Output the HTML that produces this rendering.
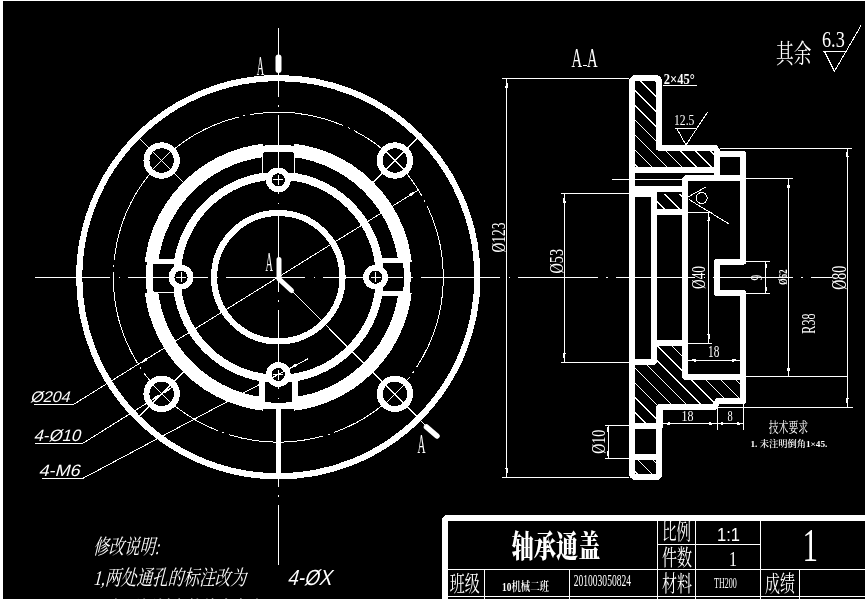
<!DOCTYPE html>
<html lang="zh"><head><meta charset="utf-8"><title>轴承通盖</title>
<style>html,body{margin:0;padding:0;background:#fff;overflow:hidden}svg{display:block;will-change:transform;filter:grayscale(1)}</style></head>
<body><svg width="865" height="599" viewBox="0 0 865 599" stroke="#fff" fill="none" shape-rendering="crispEdges">
<rect x="3" y="1" width="862" height="598" fill="#000" stroke="none"/>
<circle cx="278.3" cy="277.2" r="165" stroke-width="1" fill="none" stroke-dasharray="95 5 2 5"/>
<circle cx="278.3" cy="277.2" r="199.1" stroke-width="6.2" fill="none" />
<circle cx="278.3" cy="277.2" r="127.7" stroke-width="13.4" fill="none" />
<circle cx="278.3" cy="277.2" r="101.6" stroke-width="8" fill="none" />
<circle cx="278.3" cy="277.2" r="64.2" stroke-width="6.2" fill="none" />
<rect x="262.8" y="140.7" width="31" height="32.1" fill="#000" stroke="none"/>
<rect x="141.8" y="261.7" width="32.1" height="31" fill="#000" stroke="none"/>
<rect x="382.7" y="261.7" width="32.1" height="31" fill="#000" stroke="none"/>
<rect x="262.8" y="381.6" width="31" height="32.1" fill="#000" stroke="none"/>
<path d="M405.88 296.27 A129 129 0 0 0 405.88 258.13" stroke-width="6.8"/>
<path d="M297.37 149.62 A129 129 0 0 0 259.23 149.62" stroke-width="6.8"/>
<path d="M150.72 258.13 A129 129 0 0 0 150.72 296.27" stroke-width="6.8"/>
<path d="M259.23 404.78 A129 129 0 0 0 297.37 404.78" stroke-width="6.8"/>
<line x1="262.3" y1="154.2" x2="262.3" y2="176.8" stroke-width="1" />
<line x1="294.3" y1="154.2" x2="294.3" y2="176.8" stroke-width="1" />
<line x1="151.3" y1="261" x2="178.9" y2="261" stroke-width="5" />
<line x1="151.3" y1="292.2" x2="178.9" y2="292.2" stroke-width="1" />
<line x1="377.7" y1="260.5" x2="405.3" y2="260.5" stroke-width="5" />
<line x1="377.7" y1="293.2" x2="405.3" y2="293.2" stroke-width="5" />
<line x1="261.8" y1="376.6" x2="261.8" y2="404.2" stroke-width="5.8" />
<line x1="294.8" y1="376.6" x2="294.8" y2="404.2" stroke-width="5.8" />
<line x1="278.5" y1="407.2" x2="278.5" y2="475.2" stroke-width="5" />
<line x1="34.6" y1="277.5" x2="832" y2="277.5" stroke-width="1" stroke-dasharray="79.5 8.5 1.5 8" stroke-dashoffset="3.8"/>
<line x1="278.5" y1="28" x2="278.5" y2="565" stroke-width="1" stroke-dasharray="79.5 8.5 1.5 8" stroke-dashoffset="11"/>
<circle cx="375.6" cy="277.2" r="9.5" stroke-width="5.8" fill="#000" />
<line x1="370.6" y1="277.2" x2="380.6" y2="277.2" stroke-width="1" />
<line x1="375.6" y1="272.2" x2="375.6" y2="282.2" stroke-width="1" />
<circle cx="278.3" cy="179.9" r="9.5" stroke-width="5.8" fill="#000" />
<line x1="273.3" y1="179.9" x2="283.3" y2="179.9" stroke-width="1" />
<line x1="278.3" y1="174.9" x2="278.3" y2="184.9" stroke-width="1" />
<circle cx="181" cy="277.2" r="9.5" stroke-width="5.8" fill="#000" />
<line x1="176" y1="277.2" x2="186" y2="277.2" stroke-width="1" />
<line x1="181" y1="272.2" x2="181" y2="282.2" stroke-width="1" />
<circle cx="278.3" cy="374.5" r="9.5" stroke-width="5.8" fill="#000" />
<line x1="273.3" y1="374.5" x2="283.3" y2="374.5" stroke-width="1" />
<line x1="278.3" y1="369.5" x2="278.3" y2="379.5" stroke-width="1" />
<circle cx="394.97" cy="160.53" r="15.2" stroke-width="6" fill="#000" />
<line x1="371.64" y1="183.86" x2="418.31" y2="137.19" stroke-width="1" />
<line x1="404.17" y1="169.72" x2="385.78" y2="151.33" stroke-width="1" />
<circle cx="161.63" cy="160.53" r="15.2" stroke-width="6" fill="#000" />
<line x1="184.96" y1="183.86" x2="138.29" y2="137.19" stroke-width="1" />
<line x1="170.82" y1="151.33" x2="152.43" y2="169.72" stroke-width="1" />
<circle cx="161.63" cy="393.87" r="15.2" stroke-width="6" fill="#000" />
<line x1="184.96" y1="370.54" x2="138.29" y2="417.21" stroke-width="1" />
<line x1="152.43" y1="384.68" x2="170.82" y2="403.07" stroke-width="1" />
<circle cx="394.97" cy="393.87" r="15.2" stroke-width="6" fill="#000" />
<line x1="371.64" y1="370.54" x2="418.31" y2="417.21" stroke-width="1" />
<line x1="385.78" y1="403.07" x2="404.17" y2="384.68" stroke-width="1" />
<line x1="278.3" y1="277.2" x2="425.5" y2="425.5" stroke-width="1" />
<rect x="275.5" y="54.5" width="6" height="18.5" rx="3" fill="#fff" stroke="none" shape-rendering="auto"/>
<text transform="translate(256.8,75.3)" font-family="'Liberation Serif', 'Noto Serif CJK SC', serif" font-size="27" font-weight="normal" text-anchor="start" fill="#fff" stroke="none"  textLength="7.4" lengthAdjust="spacingAndGlyphs">A</text>
<polyline points="279,259.5 279,279 291.5,290.5" stroke-width="5" fill="none" stroke-linejoin="round" stroke-linecap="round" shape-rendering="auto"/>
<text transform="translate(265.5,271.1)" font-family="'Liberation Serif', 'Noto Serif CJK SC', serif" font-size="27" font-weight="normal" text-anchor="start" fill="#fff" stroke="none"  textLength="7.4" lengthAdjust="spacingAndGlyphs">A</text>
<line x1="426.5" y1="427" x2="437" y2="436" stroke-width="5.5" stroke-linecap="round" shape-rendering="auto"/>
<text transform="translate(417.4,452.8)" font-family="'Liberation Serif', 'Noto Serif CJK SC', serif" font-size="27" font-weight="normal" text-anchor="start" fill="#fff" stroke="none"  textLength="8" lengthAdjust="spacingAndGlyphs">A</text>
<polyline points="34.6,404.5 73.4,404.5 418.38,190.01" stroke-width="1" fill="none" stroke-linejoin="round" stroke-linecap="round" />
<polygon points="138.22,364.39 147.55,360.47 145.86,357.75" fill="#fff" stroke="none"/>
<polygon points="418.38,190.01 409.05,193.93 410.74,196.65" fill="#fff" stroke="none"/>
<text transform="translate(30,402) skewX(-15)" font-family="'Liberation Sans', 'Noto Sans CJK SC', sans-serif" font-size="15.4" font-weight="normal" text-anchor="start" fill="#fff" stroke="none"  textLength="39.5" lengthAdjust="spacingAndGlyphs">Ø204</text>
<polyline points="35,443.2 83,443.2 171.82,387.53" stroke-width="1" fill="none" stroke-linejoin="round" stroke-linecap="round" />
<polygon points="151.44,400.21 159.02,397.26 157.44,394.71" fill="#fff" stroke="none"/>
<polygon points="171.82,387.53 164.23,390.49 165.82,393.03" fill="#fff" stroke="none"/>
<text transform="translate(33.5,440.5) skewX(-15)" font-family="'Liberation Sans', 'Noto Sans CJK SC', sans-serif" font-size="16.5" font-weight="normal" text-anchor="start" fill="#fff" stroke="none"  textLength="46.5" lengthAdjust="spacingAndGlyphs">4-Ø10</text>
<polyline points="42,478.8 82,478.8 307.44,359.02" stroke-width="1" fill="none" stroke-linejoin="round" stroke-linecap="round" />
<polygon points="288.9,368.87 297.6,366.06 296.09,363.23" fill="#fff" stroke="none"/>
<text transform="translate(38.5,476.4) skewX(-15)" font-family="'Liberation Sans', 'Noto Sans CJK SC', sans-serif" font-size="16.5" font-weight="normal" text-anchor="start" fill="#fff" stroke="none"  textLength="41" lengthAdjust="spacingAndGlyphs">4-M6</text>
<text transform="translate(93,553.5) skewX(-14)" font-family="'Liberation Serif', 'Noto Serif CJK SC', serif" font-size="21" font-weight="normal" text-anchor="start" fill="#fff" stroke="none"  textLength="66" lengthAdjust="spacingAndGlyphs">修改说明:</text>
<text transform="translate(93,584.5) skewX(-14)" font-family="'Liberation Serif', 'Noto Serif CJK SC', serif" font-size="21" font-weight="normal" text-anchor="start" fill="#fff" stroke="none"  textLength="153" lengthAdjust="spacingAndGlyphs">1,两处通孔的标注改为</text>
<text transform="translate(287,584.7) skewX(-15)" font-family="'Liberation Sans', 'Noto Sans CJK SC', sans-serif" font-size="22" font-weight="normal" text-anchor="start" fill="#fff" stroke="none"  textLength="44" lengthAdjust="spacingAndGlyphs">4-ØX</text>
<text transform="translate(93,615.5) skewX(-14)" font-family="'Liberation Serif', 'Noto Serif CJK SC', serif" font-size="21" font-weight="normal" text-anchor="start" fill="#fff" stroke="none"  textLength="168" lengthAdjust="spacingAndGlyphs">2,右面倾斜度数值自左向</text>
<clipPath id="h1"><polygon points="632.3,78 659,78 659,148 717.3,148 717.3,170 632.3,170"/></clipPath>
<g clip-path="url(#h1)">
<line x1="-47.5" y1="0" x2="552.5" y2="600" stroke-width="1" />
<line x1="-32.7" y1="0" x2="567.3" y2="600" stroke-width="1" />
<line x1="-17.9" y1="0" x2="582.1" y2="600" stroke-width="1" />
<line x1="-3.1" y1="0" x2="596.9" y2="600" stroke-width="1" />
<line x1="11.7" y1="0" x2="611.7" y2="600" stroke-width="1" />
<line x1="26.5" y1="0" x2="626.5" y2="600" stroke-width="1" />
<line x1="41.3" y1="0" x2="641.3" y2="600" stroke-width="1" />
<line x1="56.1" y1="0" x2="656.1" y2="600" stroke-width="1" />
<line x1="70.9" y1="0" x2="670.9" y2="600" stroke-width="1" />
<line x1="85.7" y1="0" x2="685.7" y2="600" stroke-width="1" />
<line x1="100.5" y1="0" x2="700.5" y2="600" stroke-width="1" />
<line x1="115.3" y1="0" x2="715.3" y2="600" stroke-width="1" />
<line x1="130.1" y1="0" x2="730.1" y2="600" stroke-width="1" />
<line x1="144.9" y1="0" x2="744.9" y2="600" stroke-width="1" />
<line x1="159.7" y1="0" x2="759.7" y2="600" stroke-width="1" />
<line x1="174.5" y1="0" x2="774.5" y2="600" stroke-width="1" />
<line x1="189.3" y1="0" x2="789.3" y2="600" stroke-width="1" />
<line x1="204.1" y1="0" x2="804.1" y2="600" stroke-width="1" />
<line x1="218.9" y1="0" x2="818.9" y2="600" stroke-width="1" />
<line x1="233.7" y1="0" x2="833.7" y2="600" stroke-width="1" />
<line x1="248.5" y1="0" x2="848.5" y2="600" stroke-width="1" />
<line x1="263.3" y1="0" x2="863.3" y2="600" stroke-width="1" />
<line x1="278.1" y1="0" x2="878.1" y2="600" stroke-width="1" />
<line x1="292.9" y1="0" x2="892.9" y2="600" stroke-width="1" />
<line x1="307.7" y1="0" x2="907.7" y2="600" stroke-width="1" />
<line x1="322.5" y1="0" x2="922.5" y2="600" stroke-width="1" />
<line x1="337.3" y1="0" x2="937.3" y2="600" stroke-width="1" />
<line x1="352.1" y1="0" x2="952.1" y2="600" stroke-width="1" />
<line x1="366.9" y1="0" x2="966.9" y2="600" stroke-width="1" />
<line x1="381.7" y1="0" x2="981.7" y2="600" stroke-width="1" />
<line x1="396.5" y1="0" x2="996.5" y2="600" stroke-width="1" />
<line x1="411.3" y1="0" x2="1011.3" y2="600" stroke-width="1" />
<line x1="426.1" y1="0" x2="1026.1" y2="600" stroke-width="1" />
<line x1="440.9" y1="0" x2="1040.9" y2="600" stroke-width="1" />
<line x1="455.7" y1="0" x2="1055.7" y2="600" stroke-width="1" />
<line x1="470.5" y1="0" x2="1070.5" y2="600" stroke-width="1" />
<line x1="485.3" y1="0" x2="1085.3" y2="600" stroke-width="1" />
<line x1="500.1" y1="0" x2="1100.1" y2="600" stroke-width="1" />
<line x1="514.9" y1="0" x2="1114.9" y2="600" stroke-width="1" />
<line x1="529.7" y1="0" x2="1129.7" y2="600" stroke-width="1" />
<line x1="544.5" y1="0" x2="1144.5" y2="600" stroke-width="1" />
<line x1="559.3" y1="0" x2="1159.3" y2="600" stroke-width="1" />
<line x1="574.1" y1="0" x2="1174.1" y2="600" stroke-width="1" />
<line x1="588.9" y1="0" x2="1188.9" y2="600" stroke-width="1" />
<line x1="603.7" y1="0" x2="1203.7" y2="600" stroke-width="1" />
<line x1="618.5" y1="0" x2="1218.5" y2="600" stroke-width="1" />
<line x1="633.3" y1="0" x2="1233.3" y2="600" stroke-width="1" />
<line x1="648.1" y1="0" x2="1248.1" y2="600" stroke-width="1" />
</g>
<clipPath id="h2"><polygon points="654,194 685,194 685,212 654,212"/></clipPath>
<g clip-path="url(#h2)">
<line x1="-47.5" y1="0" x2="552.5" y2="600" stroke-width="1" />
<line x1="-32.7" y1="0" x2="567.3" y2="600" stroke-width="1" />
<line x1="-17.9" y1="0" x2="582.1" y2="600" stroke-width="1" />
<line x1="-3.1" y1="0" x2="596.9" y2="600" stroke-width="1" />
<line x1="11.7" y1="0" x2="611.7" y2="600" stroke-width="1" />
<line x1="26.5" y1="0" x2="626.5" y2="600" stroke-width="1" />
<line x1="41.3" y1="0" x2="641.3" y2="600" stroke-width="1" />
<line x1="56.1" y1="0" x2="656.1" y2="600" stroke-width="1" />
<line x1="70.9" y1="0" x2="670.9" y2="600" stroke-width="1" />
<line x1="85.7" y1="0" x2="685.7" y2="600" stroke-width="1" />
<line x1="100.5" y1="0" x2="700.5" y2="600" stroke-width="1" />
<line x1="115.3" y1="0" x2="715.3" y2="600" stroke-width="1" />
<line x1="130.1" y1="0" x2="730.1" y2="600" stroke-width="1" />
<line x1="144.9" y1="0" x2="744.9" y2="600" stroke-width="1" />
<line x1="159.7" y1="0" x2="759.7" y2="600" stroke-width="1" />
<line x1="174.5" y1="0" x2="774.5" y2="600" stroke-width="1" />
<line x1="189.3" y1="0" x2="789.3" y2="600" stroke-width="1" />
<line x1="204.1" y1="0" x2="804.1" y2="600" stroke-width="1" />
<line x1="218.9" y1="0" x2="818.9" y2="600" stroke-width="1" />
<line x1="233.7" y1="0" x2="833.7" y2="600" stroke-width="1" />
<line x1="248.5" y1="0" x2="848.5" y2="600" stroke-width="1" />
<line x1="263.3" y1="0" x2="863.3" y2="600" stroke-width="1" />
<line x1="278.1" y1="0" x2="878.1" y2="600" stroke-width="1" />
<line x1="292.9" y1="0" x2="892.9" y2="600" stroke-width="1" />
<line x1="307.7" y1="0" x2="907.7" y2="600" stroke-width="1" />
<line x1="322.5" y1="0" x2="922.5" y2="600" stroke-width="1" />
<line x1="337.3" y1="0" x2="937.3" y2="600" stroke-width="1" />
<line x1="352.1" y1="0" x2="952.1" y2="600" stroke-width="1" />
<line x1="366.9" y1="0" x2="966.9" y2="600" stroke-width="1" />
<line x1="381.7" y1="0" x2="981.7" y2="600" stroke-width="1" />
<line x1="396.5" y1="0" x2="996.5" y2="600" stroke-width="1" />
<line x1="411.3" y1="0" x2="1011.3" y2="600" stroke-width="1" />
<line x1="426.1" y1="0" x2="1026.1" y2="600" stroke-width="1" />
<line x1="440.9" y1="0" x2="1040.9" y2="600" stroke-width="1" />
<line x1="455.7" y1="0" x2="1055.7" y2="600" stroke-width="1" />
<line x1="470.5" y1="0" x2="1070.5" y2="600" stroke-width="1" />
<line x1="485.3" y1="0" x2="1085.3" y2="600" stroke-width="1" />
<line x1="500.1" y1="0" x2="1100.1" y2="600" stroke-width="1" />
<line x1="514.9" y1="0" x2="1114.9" y2="600" stroke-width="1" />
<line x1="529.7" y1="0" x2="1129.7" y2="600" stroke-width="1" />
<line x1="544.5" y1="0" x2="1144.5" y2="600" stroke-width="1" />
<line x1="559.3" y1="0" x2="1159.3" y2="600" stroke-width="1" />
<line x1="574.1" y1="0" x2="1174.1" y2="600" stroke-width="1" />
<line x1="588.9" y1="0" x2="1188.9" y2="600" stroke-width="1" />
<line x1="603.7" y1="0" x2="1203.7" y2="600" stroke-width="1" />
<line x1="618.5" y1="0" x2="1218.5" y2="600" stroke-width="1" />
<line x1="633.3" y1="0" x2="1233.3" y2="600" stroke-width="1" />
<line x1="648.1" y1="0" x2="1248.1" y2="600" stroke-width="1" />
</g>
<clipPath id="h3"><polygon points="654,343 685,343 685,376.6 743,376.6 743,401 717.3,401 717.3,407 659,407 659,426 632.3,426 632.3,361.6 654,361.6"/></clipPath>
<g clip-path="url(#h3)">
<line x1="-177" y1="0" x2="423" y2="600" stroke-width="1" />
<line x1="-162.2" y1="0" x2="437.8" y2="600" stroke-width="1" />
<line x1="-147.4" y1="0" x2="452.6" y2="600" stroke-width="1" />
<line x1="-132.6" y1="0" x2="467.4" y2="600" stroke-width="1" />
<line x1="-117.8" y1="0" x2="482.2" y2="600" stroke-width="1" />
<line x1="-103" y1="0" x2="497" y2="600" stroke-width="1" />
<line x1="-88.2" y1="0" x2="511.8" y2="600" stroke-width="1" />
<line x1="-73.4" y1="0" x2="526.6" y2="600" stroke-width="1" />
<line x1="-58.6" y1="0" x2="541.4" y2="600" stroke-width="1" />
<line x1="-43.8" y1="0" x2="556.2" y2="600" stroke-width="1" />
<line x1="-29" y1="0" x2="571" y2="600" stroke-width="1" />
<line x1="-14.2" y1="0" x2="585.8" y2="600" stroke-width="1" />
<line x1="0.6" y1="0" x2="600.6" y2="600" stroke-width="1" />
<line x1="15.4" y1="0" x2="615.4" y2="600" stroke-width="1" />
<line x1="30.2" y1="0" x2="630.2" y2="600" stroke-width="1" />
<line x1="45" y1="0" x2="645" y2="600" stroke-width="1" />
<line x1="59.8" y1="0" x2="659.8" y2="600" stroke-width="1" />
<line x1="74.6" y1="0" x2="674.6" y2="600" stroke-width="1" />
<line x1="89.4" y1="0" x2="689.4" y2="600" stroke-width="1" />
<line x1="104.2" y1="0" x2="704.2" y2="600" stroke-width="1" />
<line x1="119" y1="0" x2="719" y2="600" stroke-width="1" />
<line x1="133.8" y1="0" x2="733.8" y2="600" stroke-width="1" />
<line x1="148.6" y1="0" x2="748.6" y2="600" stroke-width="1" />
<line x1="163.4" y1="0" x2="763.4" y2="600" stroke-width="1" />
<line x1="178.2" y1="0" x2="778.2" y2="600" stroke-width="1" />
<line x1="193" y1="0" x2="793" y2="600" stroke-width="1" />
<line x1="207.8" y1="0" x2="807.8" y2="600" stroke-width="1" />
<line x1="222.6" y1="0" x2="822.6" y2="600" stroke-width="1" />
<line x1="237.4" y1="0" x2="837.4" y2="600" stroke-width="1" />
<line x1="252.2" y1="0" x2="852.2" y2="600" stroke-width="1" />
<line x1="267" y1="0" x2="867" y2="600" stroke-width="1" />
<line x1="281.8" y1="0" x2="881.8" y2="600" stroke-width="1" />
<line x1="296.6" y1="0" x2="896.6" y2="600" stroke-width="1" />
<line x1="311.4" y1="0" x2="911.4" y2="600" stroke-width="1" />
<line x1="326.2" y1="0" x2="926.2" y2="600" stroke-width="1" />
<line x1="341" y1="0" x2="941" y2="600" stroke-width="1" />
<line x1="355.8" y1="0" x2="955.8" y2="600" stroke-width="1" />
<line x1="370.6" y1="0" x2="970.6" y2="600" stroke-width="1" />
<line x1="385.4" y1="0" x2="985.4" y2="600" stroke-width="1" />
<line x1="400.2" y1="0" x2="1000.2" y2="600" stroke-width="1" />
<line x1="415" y1="0" x2="1015" y2="600" stroke-width="1" />
<line x1="429.8" y1="0" x2="1029.8" y2="600" stroke-width="1" />
<line x1="444.6" y1="0" x2="1044.6" y2="600" stroke-width="1" />
<line x1="459.4" y1="0" x2="1059.4" y2="600" stroke-width="1" />
<line x1="474.2" y1="0" x2="1074.2" y2="600" stroke-width="1" />
<line x1="489" y1="0" x2="1089" y2="600" stroke-width="1" />
<line x1="503.8" y1="0" x2="1103.8" y2="600" stroke-width="1" />
<line x1="518.6" y1="0" x2="1118.6" y2="600" stroke-width="1" />
<line x1="533.4" y1="0" x2="1133.4" y2="600" stroke-width="1" />
<line x1="548.2" y1="0" x2="1148.2" y2="600" stroke-width="1" />
<line x1="563" y1="0" x2="1163" y2="600" stroke-width="1" />
<line x1="577.8" y1="0" x2="1177.8" y2="600" stroke-width="1" />
<line x1="592.6" y1="0" x2="1192.6" y2="600" stroke-width="1" />
<line x1="607.4" y1="0" x2="1207.4" y2="600" stroke-width="1" />
<line x1="622.2" y1="0" x2="1222.2" y2="600" stroke-width="1" />
<line x1="637" y1="0" x2="1237" y2="600" stroke-width="1" />
<line x1="651.8" y1="0" x2="1251.8" y2="600" stroke-width="1" />
<line x1="666.6" y1="0" x2="1266.6" y2="600" stroke-width="1" />
<line x1="681.4" y1="0" x2="1281.4" y2="600" stroke-width="1" />
<line x1="696.2" y1="0" x2="1296.2" y2="600" stroke-width="1" />
</g>
<clipPath id="h4"><polygon points="632.3,457 659,457 659,477 632.3,477"/></clipPath>
<g clip-path="url(#h4)">
<line x1="-177" y1="0" x2="423" y2="600" stroke-width="1" />
<line x1="-162.2" y1="0" x2="437.8" y2="600" stroke-width="1" />
<line x1="-147.4" y1="0" x2="452.6" y2="600" stroke-width="1" />
<line x1="-132.6" y1="0" x2="467.4" y2="600" stroke-width="1" />
<line x1="-117.8" y1="0" x2="482.2" y2="600" stroke-width="1" />
<line x1="-103" y1="0" x2="497" y2="600" stroke-width="1" />
<line x1="-88.2" y1="0" x2="511.8" y2="600" stroke-width="1" />
<line x1="-73.4" y1="0" x2="526.6" y2="600" stroke-width="1" />
<line x1="-58.6" y1="0" x2="541.4" y2="600" stroke-width="1" />
<line x1="-43.8" y1="0" x2="556.2" y2="600" stroke-width="1" />
<line x1="-29" y1="0" x2="571" y2="600" stroke-width="1" />
<line x1="-14.2" y1="0" x2="585.8" y2="600" stroke-width="1" />
<line x1="0.6" y1="0" x2="600.6" y2="600" stroke-width="1" />
<line x1="15.4" y1="0" x2="615.4" y2="600" stroke-width="1" />
<line x1="30.2" y1="0" x2="630.2" y2="600" stroke-width="1" />
<line x1="45" y1="0" x2="645" y2="600" stroke-width="1" />
<line x1="59.8" y1="0" x2="659.8" y2="600" stroke-width="1" />
<line x1="74.6" y1="0" x2="674.6" y2="600" stroke-width="1" />
<line x1="89.4" y1="0" x2="689.4" y2="600" stroke-width="1" />
<line x1="104.2" y1="0" x2="704.2" y2="600" stroke-width="1" />
<line x1="119" y1="0" x2="719" y2="600" stroke-width="1" />
<line x1="133.8" y1="0" x2="733.8" y2="600" stroke-width="1" />
<line x1="148.6" y1="0" x2="748.6" y2="600" stroke-width="1" />
<line x1="163.4" y1="0" x2="763.4" y2="600" stroke-width="1" />
<line x1="178.2" y1="0" x2="778.2" y2="600" stroke-width="1" />
<line x1="193" y1="0" x2="793" y2="600" stroke-width="1" />
<line x1="207.8" y1="0" x2="807.8" y2="600" stroke-width="1" />
<line x1="222.6" y1="0" x2="822.6" y2="600" stroke-width="1" />
<line x1="237.4" y1="0" x2="837.4" y2="600" stroke-width="1" />
<line x1="252.2" y1="0" x2="852.2" y2="600" stroke-width="1" />
<line x1="267" y1="0" x2="867" y2="600" stroke-width="1" />
<line x1="281.8" y1="0" x2="881.8" y2="600" stroke-width="1" />
<line x1="296.6" y1="0" x2="896.6" y2="600" stroke-width="1" />
<line x1="311.4" y1="0" x2="911.4" y2="600" stroke-width="1" />
<line x1="326.2" y1="0" x2="926.2" y2="600" stroke-width="1" />
<line x1="341" y1="0" x2="941" y2="600" stroke-width="1" />
<line x1="355.8" y1="0" x2="955.8" y2="600" stroke-width="1" />
<line x1="370.6" y1="0" x2="970.6" y2="600" stroke-width="1" />
<line x1="385.4" y1="0" x2="985.4" y2="600" stroke-width="1" />
<line x1="400.2" y1="0" x2="1000.2" y2="600" stroke-width="1" />
<line x1="415" y1="0" x2="1015" y2="600" stroke-width="1" />
<line x1="429.8" y1="0" x2="1029.8" y2="600" stroke-width="1" />
<line x1="444.6" y1="0" x2="1044.6" y2="600" stroke-width="1" />
<line x1="459.4" y1="0" x2="1059.4" y2="600" stroke-width="1" />
<line x1="474.2" y1="0" x2="1074.2" y2="600" stroke-width="1" />
<line x1="489" y1="0" x2="1089" y2="600" stroke-width="1" />
<line x1="503.8" y1="0" x2="1103.8" y2="600" stroke-width="1" />
<line x1="518.6" y1="0" x2="1118.6" y2="600" stroke-width="1" />
<line x1="533.4" y1="0" x2="1133.4" y2="600" stroke-width="1" />
<line x1="548.2" y1="0" x2="1148.2" y2="600" stroke-width="1" />
<line x1="563" y1="0" x2="1163" y2="600" stroke-width="1" />
<line x1="577.8" y1="0" x2="1177.8" y2="600" stroke-width="1" />
<line x1="592.6" y1="0" x2="1192.6" y2="600" stroke-width="1" />
<line x1="607.4" y1="0" x2="1207.4" y2="600" stroke-width="1" />
<line x1="622.2" y1="0" x2="1222.2" y2="600" stroke-width="1" />
<line x1="637" y1="0" x2="1237" y2="600" stroke-width="1" />
<line x1="651.8" y1="0" x2="1251.8" y2="600" stroke-width="1" />
<line x1="666.6" y1="0" x2="1266.6" y2="600" stroke-width="1" />
<line x1="681.4" y1="0" x2="1281.4" y2="600" stroke-width="1" />
<line x1="696.2" y1="0" x2="1296.2" y2="600" stroke-width="1" />
</g>
<polyline points="632.3,475 632.3,80.2 634.3,78.2 657,78.2 659,80.2 659,147.8 714.7,147.8 717.3,151 717.3,178" stroke-width="6" fill="none" stroke-linejoin="round" stroke-linecap="round" />
<polyline points="717.3,153.8 743,153.8 743,261.7 717.3,261.7 717.3,293.2 743,293.2 743,401 718,401 714.5,407.2 659.3,407.2 659.3,475 657.3,477 634.3,477 632.3,475" stroke-width="6" fill="none" stroke-linejoin="round" stroke-linecap="round" />
<line x1="632.3" y1="170" x2="717.3" y2="170" stroke-width="6" />
<polyline points="743,178 687,178 685,180 685,376.6 743,376.6" stroke-width="6" fill="none" stroke-linejoin="round" stroke-linecap="round" />
<line x1="632.3" y1="188.7" x2="685" y2="188.7" stroke-width="6" />
<polyline points="632.3,194 654,194 654,361.6 632.3,361.6" stroke-width="6" fill="none" stroke-linejoin="round" stroke-linecap="round" />
<line x1="654" y1="211.7" x2="685" y2="211.7" stroke-width="6" />
<line x1="654" y1="343.1" x2="685" y2="343.1" stroke-width="6" />
<line x1="632.3" y1="426" x2="659" y2="426" stroke-width="6" />
<line x1="632.3" y1="457" x2="659" y2="457" stroke-width="6" />
<line x1="612" y1="179.6" x2="684" y2="179.6" stroke-width="1" />
<circle cx="701.7" cy="198" r="5.5" stroke-width="1" fill="none" />
<line x1="688" y1="197" x2="705.4" y2="187.3" stroke-width="1" />
<line x1="688.8" y1="199.4" x2="729.5" y2="224.3" stroke-width="1" />
<line x1="502" y1="78.5" x2="629" y2="78.5" stroke-width="1" />
<line x1="502" y1="477" x2="629" y2="477" stroke-width="1" />
<line x1="506.8" y1="78.5" x2="506.8" y2="477" stroke-width="1" />
<polygon points="506.8,78.5 505.3,87.5 508.3,87.5" fill="#fff" stroke="none"/>
<polygon points="506.8,477 508.3,468 505.3,468" fill="#fff" stroke="none"/>
<text transform="translate(504.6,252.5) rotate(-90)" font-family="'Liberation Serif', 'Noto Serif CJK SC', serif" font-size="18" font-weight="normal" text-anchor="start" fill="#fff" stroke="none"  textLength="30" lengthAdjust="spacingAndGlyphs">Ø123</text>
<line x1="560.5" y1="193.5" x2="630" y2="193.5" stroke-width="1" />
<line x1="560.5" y1="362.3" x2="630" y2="362.3" stroke-width="1" />
<line x1="564.2" y1="193.5" x2="564.2" y2="362.3" stroke-width="1" />
<polygon points="564.2,193.5 562.7,202.5 565.7,202.5" fill="#fff" stroke="none"/>
<polygon points="564.2,362.3 565.7,353.3 562.7,353.3" fill="#fff" stroke="none"/>
<text transform="translate(562.5,273.5) rotate(-90)" font-family="'Liberation Serif', 'Noto Serif CJK SC', serif" font-size="18" font-weight="normal" text-anchor="start" fill="#fff" stroke="none"  textLength="24.5" lengthAdjust="spacingAndGlyphs">Ø53</text>
<line x1="688" y1="212.3" x2="712" y2="212.3" stroke-width="1" />
<line x1="688" y1="343" x2="712" y2="343" stroke-width="1" />
<line x1="708.8" y1="212.3" x2="708.8" y2="343" stroke-width="1" />
<polygon points="708.8,212.3 707.3,221.3 710.3,221.3" fill="#fff" stroke="none"/>
<polygon points="708.8,343 710.3,334 707.3,334" fill="#fff" stroke="none"/>
<text transform="translate(705.4,289) rotate(-90)" font-family="'Liberation Serif', 'Noto Serif CJK SC', serif" font-size="18" font-weight="normal" text-anchor="start" fill="#fff" stroke="none"  textLength="23" lengthAdjust="spacingAndGlyphs">Ø40</text>
<line x1="746" y1="261.3" x2="770" y2="261.3" stroke-width="1" />
<line x1="746" y1="293.6" x2="770" y2="293.6" stroke-width="1" />
<line x1="765.9" y1="261.3" x2="765.9" y2="293.6" stroke-width="1" />
<polygon points="765.9,261.3 764.4,268.3 767.4,268.3" fill="#fff" stroke="none"/>
<polygon points="765.9,293.6 767.4,286.6 764.4,286.6" fill="#fff" stroke="none"/>
<text transform="translate(762,280.5) rotate(-90)" font-family="'Liberation Serif', 'Noto Serif CJK SC', serif" font-size="16.5" font-weight="normal" text-anchor="start" fill="#fff" stroke="none"  textLength="5.8" lengthAdjust="spacingAndGlyphs">9</text>
<line x1="746" y1="178.6" x2="793.4" y2="178.6" stroke-width="1" />
<line x1="746" y1="376.7" x2="847" y2="376.7" stroke-width="1" />
<line x1="788.5" y1="178.6" x2="788.5" y2="376.7" stroke-width="1" />
<polygon points="788.5,178.6 787,187.6 790,187.6" fill="#fff" stroke="none"/>
<polygon points="788.5,376.7 790,367.7 787,367.7" fill="#fff" stroke="none"/>
<text transform="translate(787,285) rotate(-90)" font-family="'Liberation Serif', 'Noto Serif CJK SC', serif" font-size="12" font-weight="bold" text-anchor="start" fill="#fff" stroke="none"  textLength="15.5" lengthAdjust="spacingAndGlyphs">Ø62</text>
<text transform="translate(814.5,333.7) rotate(-90)" font-family="'Liberation Serif', 'Noto Serif CJK SC', serif" font-size="19" font-weight="normal" text-anchor="start" fill="#fff" stroke="none"  textLength="20.2" lengthAdjust="spacingAndGlyphs">R38</text>
<line x1="720" y1="148.4" x2="852" y2="148.4" stroke-width="1" />
<line x1="717" y1="407" x2="852.5" y2="407" stroke-width="1" />
<line x1="847.2" y1="148.4" x2="847.2" y2="407" stroke-width="1" />
<polygon points="847.2,148.4 845.7,157.4 848.7,157.4" fill="#fff" stroke="none"/>
<polygon points="847.2,407 848.7,398 845.7,398" fill="#fff" stroke="none"/>
<text transform="translate(845.7,289.7) rotate(-90)" font-family="'Liberation Serif', 'Noto Serif CJK SC', serif" font-size="20" font-weight="normal" text-anchor="start" fill="#fff" stroke="none"  textLength="24" lengthAdjust="spacingAndGlyphs">Ø80</text>
<line x1="688" y1="360.3" x2="740" y2="360.3" stroke-width="1" />
<polygon points="688,360.3 696,361.8 696,358.8" fill="#fff" stroke="none"/>
<polygon points="740,360.3 732,358.8 732,361.8" fill="#fff" stroke="none"/>
<text transform="translate(708,357)" font-family="'Liberation Serif', 'Noto Serif CJK SC', serif" font-size="16.5" font-weight="normal" text-anchor="start" fill="#fff" stroke="none"  textLength="11.3" lengthAdjust="spacingAndGlyphs">18</text>
<line x1="717" y1="404" x2="717" y2="430" stroke-width="1" />
<line x1="743.4" y1="404" x2="743.4" y2="430" stroke-width="1" />
<line x1="662" y1="410" x2="662" y2="428" stroke-width="1" />
<line x1="662" y1="423.6" x2="717" y2="423.6" stroke-width="1" />
<polygon points="662,423.6 670,425.1 670,422.1" fill="#fff" stroke="none"/>
<polygon points="717,423.6 709,422.1 709,425.1" fill="#fff" stroke="none"/>
<line x1="717" y1="423.6" x2="743.4" y2="423.6" stroke-width="1" />
<polygon points="717,423.6 723,425.1 723,422.1" fill="#fff" stroke="none"/>
<polygon points="743.4,423.6 737.4,422.1 737.4,425.1" fill="#fff" stroke="none"/>
<text transform="translate(681.4,420.8)" font-family="'Liberation Serif', 'Noto Serif CJK SC', serif" font-size="15.5" font-weight="normal" text-anchor="start" fill="#fff" stroke="none"  textLength="12" lengthAdjust="spacingAndGlyphs">18</text>
<text transform="translate(727.4,420.8)" font-family="'Liberation Serif', 'Noto Serif CJK SC', serif" font-size="15.5" font-weight="normal" text-anchor="start" fill="#fff" stroke="none"  textLength="5.2" lengthAdjust="spacingAndGlyphs">8</text>
<line x1="605" y1="425" x2="630" y2="425" stroke-width="1" />
<line x1="605" y1="458.4" x2="630" y2="458.4" stroke-width="1" />
<line x1="608" y1="425" x2="608" y2="458.4" stroke-width="1" />
<polygon points="608,425 606.5,432 609.5,432" fill="#fff" stroke="none"/>
<polygon points="608,458.4 609.5,451.4 606.5,451.4" fill="#fff" stroke="none"/>
<text transform="translate(605.3,453.8) rotate(-90)" font-family="'Liberation Serif', 'Noto Serif CJK SC', serif" font-size="18" font-weight="normal" text-anchor="start" fill="#fff" stroke="none"  textLength="24" lengthAdjust="spacingAndGlyphs">Ø10</text>
<text transform="translate(571.4,66.8)" font-family="'Liberation Serif', 'Noto Serif CJK SC', serif" font-size="27" font-weight="normal" text-anchor="start" fill="#fff" stroke="none"  textLength="10.6" lengthAdjust="spacingAndGlyphs">A</text>
<text transform="translate(587,66.8)" font-family="'Liberation Serif', 'Noto Serif CJK SC', serif" font-size="27" font-weight="normal" text-anchor="start" fill="#fff" stroke="none"  textLength="10.6" lengthAdjust="spacingAndGlyphs">A</text>
<line x1="582.5" y1="65.5" x2="587" y2="65.5" stroke-width="1.6" />
<text transform="translate(663.8,84)" font-family="'Liberation Serif', 'Noto Serif CJK SC', serif" font-size="14.5" font-weight="bold" text-anchor="start" fill="#fff" stroke="none"  textLength="31" lengthAdjust="spacingAndGlyphs">2×45°</text>
<line x1="663" y1="85.2" x2="697" y2="85.2" stroke-width="1" />
<text transform="translate(674,125)" font-family="'Liberation Serif', 'Noto Serif CJK SC', serif" font-size="14.5" font-weight="normal" text-anchor="start" fill="#fff" stroke="none"  textLength="20.4" lengthAdjust="spacingAndGlyphs">12.5</text>
<polyline points="675.5,128.8 697,128.8" stroke-width="1" fill="none" stroke-linejoin="round" stroke-linecap="round" />
<polyline points="677,128.8 686,145 707.3,112.4" stroke-width="1" fill="none" stroke-linejoin="round" stroke-linecap="round" />
<text transform="translate(776,62.5)" font-family="'Liberation Serif', 'Noto Serif CJK SC', serif" font-size="26" font-weight="normal" text-anchor="start" fill="#fff" stroke="none"  textLength="35.4" lengthAdjust="spacingAndGlyphs">其余</text>
<text transform="translate(822,47.4)" font-family="'Liberation Serif', 'Noto Serif CJK SC', serif" font-size="24" font-weight="normal" text-anchor="start" fill="#fff" stroke="none"  textLength="22.8" lengthAdjust="spacingAndGlyphs">6.3</text>
<polyline points="823.4,51.4 845.5,51.4" stroke-width="1" fill="none" stroke-linejoin="round" stroke-linecap="round" />
<polyline points="824.5,51.4 834.4,71.4 860.9,25.8" stroke-width="1" fill="none" stroke-linejoin="round" stroke-linecap="round" />
<text transform="translate(768.8,432)" font-family="'Liberation Serif', 'Noto Serif CJK SC', serif" font-size="14" font-weight="normal" text-anchor="start" fill="#fff" stroke="none"  textLength="39.2" lengthAdjust="spacingAndGlyphs">技术要求</text>
<text transform="translate(750.4,446.8)" font-family="'Liberation Serif', 'Noto Serif CJK SC', serif" font-size="9" font-weight="600" text-anchor="start" fill="#fff" stroke="none"  textLength="77" lengthAdjust="spacingAndGlyphs">1. 未注明倒角1×45.</text>
<polyline points="444.6,599 444.6,520 447,517.8 865,517.8" stroke-width="6" fill="none" stroke-linejoin="round" stroke-linecap="round" />
<line x1="447" y1="569.5" x2="865" y2="569.5" stroke-width="1" />
<line x1="447" y1="596.5" x2="865" y2="596.5" stroke-width="1" />
<line x1="484.7" y1="569.5" x2="484.7" y2="599" stroke-width="1" />
<line x1="569.4" y1="569.5" x2="569.4" y2="599" stroke-width="1" />
<line x1="657" y1="520" x2="657" y2="599" stroke-width="1" />
<line x1="695.4" y1="520" x2="695.4" y2="599" stroke-width="1" />
<line x1="760.2" y1="520" x2="760.2" y2="599" stroke-width="1" />
<line x1="799.2" y1="569.5" x2="799.2" y2="599" stroke-width="1" />
<line x1="657" y1="544.7" x2="760.2" y2="544.7" stroke-width="1" />
<text transform="translate(511.4,557)" font-family="'Liberation Serif', 'Noto Serif CJK SC', serif" font-size="31" font-weight="900" text-anchor="start" fill="#fff" stroke="none"  textLength="89" lengthAdjust="spacingAndGlyphs">轴承通盖</text>
<text transform="translate(449.8,591)" font-family="'Liberation Serif', 'Noto Serif CJK SC', serif" font-size="22" font-weight="normal" text-anchor="start" fill="#fff" stroke="none"  textLength="30" lengthAdjust="spacingAndGlyphs">班级</text>
<text transform="translate(502,590.5)" font-family="'Liberation Serif', 'Noto Serif CJK SC', serif" font-size="12.5" font-weight="600" text-anchor="start" fill="#fff" stroke="none"  textLength="47" lengthAdjust="spacingAndGlyphs">10机械二班</text>
<text transform="translate(573.7,586)" font-family="'Liberation Serif', 'Noto Serif CJK SC', serif" font-size="16" font-weight="normal" text-anchor="start" fill="#fff" stroke="none"  textLength="57.3" lengthAdjust="spacingAndGlyphs">201003050824</text>
<text transform="translate(662,538.6)" font-family="'Liberation Serif', 'Noto Serif CJK SC', serif" font-size="22" font-weight="normal" text-anchor="start" fill="#fff" stroke="none"  textLength="29" lengthAdjust="spacingAndGlyphs">比例</text>
<text transform="translate(662,564.6)" font-family="'Liberation Serif', 'Noto Serif CJK SC', serif" font-size="22" font-weight="normal" text-anchor="start" fill="#fff" stroke="none"  textLength="30" lengthAdjust="spacingAndGlyphs">件数</text>
<text transform="translate(662,590.7)" font-family="'Liberation Serif', 'Noto Serif CJK SC', serif" font-size="22" font-weight="normal" text-anchor="start" fill="#fff" stroke="none"  textLength="30" lengthAdjust="spacingAndGlyphs">材料</text>
<text transform="translate(764.9,590.7)" font-family="'Liberation Serif', 'Noto Serif CJK SC', serif" font-size="22" font-weight="normal" text-anchor="start" fill="#fff" stroke="none"  textLength="30" lengthAdjust="spacingAndGlyphs">成绩</text>
<text transform="translate(717,541)" font-family="'Liberation Sans', 'Noto Sans CJK SC', sans-serif" font-size="19" font-weight="normal" text-anchor="start" fill="#fff" stroke="none"  textLength="23" lengthAdjust="spacingAndGlyphs">1:1</text>
<text transform="translate(729,566.3)" font-family="'Liberation Serif', 'Noto Serif CJK SC', serif" font-size="22" font-weight="normal" text-anchor="start" fill="#fff" stroke="none"  textLength="8" lengthAdjust="spacingAndGlyphs">1</text>
<text transform="translate(714,588)" font-family="'Liberation Serif', 'Noto Serif CJK SC', serif" font-size="15" font-weight="normal" text-anchor="start" fill="#fff" stroke="none"  textLength="22.8" lengthAdjust="spacingAndGlyphs">TH200</text>
<text transform="translate(802.5,561)" font-family="'Liberation Serif', 'Noto Serif CJK SC', serif" font-size="46" font-weight="normal" text-anchor="start" fill="#fff" stroke="none"  textLength="15.5" lengthAdjust="spacingAndGlyphs">1</text>
</svg></body></html>
